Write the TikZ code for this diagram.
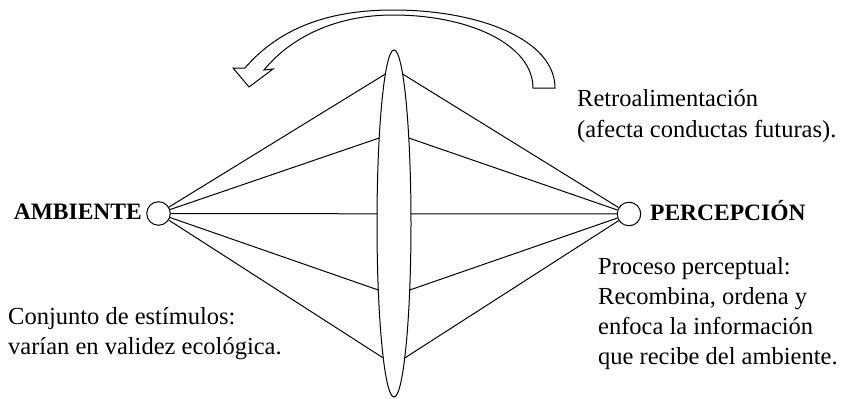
\documentclass[tikz,border=0pt]{standalone}
\usepackage{fontspec}
\setmainfont{Liberation Serif}
\usetikzlibrary{shapes.geometric}
\begin{document}
\begin{tikzpicture}[x=1pt,y=-1pt,
  conn/.style={line width=1pt},
  dot/.style={circle,draw,line width=1pt,minimum size=23.5pt,inner sep=0pt},
  lens/.style={ellipse,draw,line width=1pt,minimum width=34pt,minimum height=347pt,inner sep=0pt},
  txt/.style={anchor=base west,inner sep=0pt,font=\fontsize{24.5}{30}\selectfont},
  lbl/.style={inner sep=0pt,font=\fontsize{23.5}{28}\selectfont\bfseries},
  band/.style={line width=1pt,fill=white,line join=miter}]
\useasboundingbox (0,0) rectangle (855,399);

% nodes
\node[dot] (amb) at (158.5,213.5) {};
\node[dot] (per) at (629,214) {};
\node[lens] (lens) at (394,223.5) {};

% points on the lens
\coordinate (l1) at (385.4,74);
\coordinate (l2) at (379.2,138);
\coordinate (l3) at (377,213.8);
\coordinate (l4) at (378.3,290);
\coordinate (l5) at (383.3,358);
\coordinate (r1) at (402.6,74);
\coordinate (r2) at (408.8,138);
\coordinate (r3) at (411,213.8);
\coordinate (r4) at (409.7,290);
\coordinate (r5) at (404.7,358);

\foreach \i in {1,...,5}{
  \draw[conn] (amb) -- (l\i);
  \draw[conn] (r\i) -- (per);
}

% feedback arrow
\draw[band] (555,88) .. controls (555,40) and (480,10) .. (393,10)
  .. controls (322,10) and (276,32) .. (245,68)
  -- (233,68) -- (249,87) -- (273,69) -- (264,70)
  .. controls (290,38) and (335,15) .. (393,15)
  .. controls (470,15) and (533,45) .. (533,88) -- cycle;

% labels
\node[lbl,anchor=base east] (ambl) at (142,219.5) {AMBIENTE};
\node[lbl,anchor=base west] (perl) at (650,220.5) {PERCEPCIÓN};

\node[txt] (re1) at (577,106) {Retroalimentación};
\node[txt] (re2) at (577,137) {(afecta conductas futuras).};

\node[txt] (pp1) at (598,274) {Proceso perceptual:};
\node[txt] (pp2) at (598,304) {Recombina, ordena y};
\node[txt] (pp3) at (598,334) {enfoca la información};
\node[txt] (pp4) at (598,364) {que recibe del ambiente.};

\node[txt] (ce1) at (8,324) {Conjunto de estímulos:};
\node[txt] (ce2) at (8,354) {varían en validez ecológica.};
\end{tikzpicture}
\end{document}
